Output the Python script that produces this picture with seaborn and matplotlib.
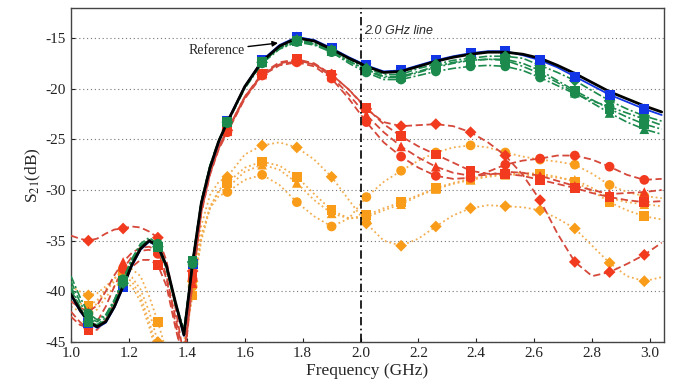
import numpy as np
import pandas as pd
import matplotlib
matplotlib.use("Agg")
import matplotlib.pyplot as plt
import seaborn as sns

# ---------------- data ----------------
freq = [1.00, 1.03, 1.06, 1.09, 1.12, 1.15, 1.18, 1.21, 1.24, 1.27, 1.30, 1.33, 1.36, 1.39,
        1.42, 1.45, 1.48, 1.51, 1.54,
        1.60, 1.66, 1.72, 1.78, 1.84, 1.90, 1.96, 2.02, 2.08, 2.14, 2.20, 2.26, 2.32, 2.38,
        2.44, 2.50, 2.56, 2.62, 2.68, 2.74, 2.80, 2.86, 2.92, 2.98, 3.04]
marker_freq = [1.06, 1.18, 1.30, 1.42, 1.54, 1.66, 1.78, 1.90, 2.02, 2.14, 2.26, 2.38,
               2.50, 2.62, 2.74, 2.86, 2.98]

reference = [-40.3, -41.8, -43.0, -43.5, -43.0, -41.5, -39.5, -37.4, -35.8, -35.0, -35.5, -37.5, -41.0, -44.3,
             -37.2, -31.3, -27.8, -25.2, -23.3,
             -19.8, -17.3, -15.8, -15.0, -15.3, -16.1, -17.0, -17.8, -18.4, -18.3, -17.8, -17.3, -16.9, -16.6,
             -16.4, -16.4, -16.6, -17.0, -17.7, -18.5, -19.4, -20.3, -21.0, -21.7, -22.3]
blue = [-40.4, -41.9, -43.1, -43.6, -43.1, -41.6, -39.6, -37.5, -35.9, -35.1, -35.6, -37.6, -41.1, -44.4,
        -37.3, -31.4, -27.9, -25.3, -23.2,
        -19.8, -17.2, -15.7, -14.9, -15.2, -16.0, -16.9, -17.7, -18.3, -18.2, -17.7, -17.2, -16.8, -16.5,
        -16.3, -16.3, -16.7, -17.2, -17.9, -18.8, -19.7, -20.6, -21.3, -22.0, -22.6]

green_sq = [-39.5, -41.5, -43.0, -43.3, -42.6, -41.0, -39.0, -37.0, -35.6, -35.0, -35.6, -37.8, -41.3, -44.0,
            -37.0, -31.1, -27.6, -25.1, -23.3,
            -19.9, -17.4, -16.0, -15.3, -15.6, -16.3, -17.3, -18.2, -18.9, -18.9, -18.4, -17.9, -17.5, -17.2,
            -17.1, -17.1, -17.5, -18.2, -19.2, -20.2, -21.1, -22.0, -22.8, -23.5, -24.0]
green_ci = [-38.5, -40.5, -42.2, -42.8, -42.3, -40.8, -38.8, -36.8, -35.3, -34.7, -35.3, -37.5, -41.0, -43.8,
            -37.3, -31.2, -27.7, -25.2, -23.4,
            -20.0, -17.5, -16.1, -15.4, -15.7, -16.4, -17.5, -18.4, -19.1, -19.1, -18.7, -18.3, -18.0, -17.8,
            -17.7, -17.8, -18.2, -18.9, -19.7, -20.5, -21.2, -21.8, -22.4, -23.0, -23.6]
green_tr = [-39.0, -41.0, -42.6, -43.0, -42.4, -40.9, -38.9, -36.9, -35.5, -34.9, -35.5, -37.7, -41.2, -43.9,
            -37.1, -31.1, -27.6, -25.1, -23.3,
            -19.9, -17.4, -16.0, -15.3, -15.6, -16.3, -17.3, -18.1, -18.8, -18.8, -18.3, -17.8, -17.4, -17.2,
            -17.1, -17.2, -17.8, -18.5, -19.4, -20.4, -21.4, -22.4, -23.3, -24.0, -24.5]
green_di = [-39.8, -41.6, -43.0, -43.4, -42.8, -41.2, -39.2, -37.2, -35.7, -35.1, -35.6, -37.7, -41.2, -44.1,
            -37.1, -31.2, -27.7, -25.2, -23.3,
            -19.9, -17.4, -15.9, -15.2, -15.5, -16.2, -17.1, -18.0, -18.6, -18.6, -18.0, -17.6, -17.2, -17.0,
            -16.8, -16.8, -17.0, -17.7, -18.4, -19.2, -20.2, -21.2, -22.0, -22.7, -23.2]

red_di = [-34.5, -34.8, -35.0, -34.8, -34.3, -33.9, -33.8, -33.6, -33.7, -34.1, -34.7, -37.0, -41.5, -46.5,
          -38.0, -31.8, -28.2, -25.7, -24.1,
          -20.8, -18.6, -17.6, -17.3, -17.6, -18.6, -20.1, -22.0, -23.3, -23.7, -23.6, -23.5, -23.7, -24.3,
          -25.3, -26.6, -28.5, -31.0, -34.3, -37.1, -38.5, -38.1, -37.3, -36.4, -35.2]
red_sq = [-42.0, -43.0, -43.8, -43.8, -42.8, -41.0, -39.0, -37.6, -36.9, -36.9, -37.4, -39.5, -43.5, -47.0,
          -38.4, -31.9, -28.2, -25.7, -24.1,
          -20.8, -18.5, -17.4, -17.1, -17.5, -18.6, -20.1, -21.9, -23.5, -24.7, -25.7, -26.5, -27.3, -28.1,
          -28.4, -28.4, -28.6, -29.0, -29.4, -29.8, -30.3, -30.7, -31.0, -31.2, -31.1]
red_tr = [-41.0, -41.6, -42.0, -41.4, -40.0, -38.4, -37.1, -36.2, -35.7, -35.6, -36.0, -38.5, -42.5, -46.5,
          -39.2, -32.2, -28.4, -25.9, -24.2,
          -20.9, -18.6, -17.5, -17.2, -17.6, -18.8, -20.6, -22.6, -24.3, -25.7, -26.8, -27.7, -28.3, -28.6,
          -28.5, -28.2, -28.3, -28.6, -29.1, -29.6, -30.0, -30.4, -30.3, -30.2, -30.0]
red_ci = [-42.5, -43.3, -43.6, -43.0, -41.5, -39.5, -37.8, -36.6, -36.0, -35.9, -36.3, -38.8, -43.0, -47.5,
          -38.8, -32.3, -28.5, -26.0, -24.3,
          -21.0, -18.7, -17.7, -17.4, -17.8, -19.0, -21.0, -23.3, -25.3, -26.7, -27.8, -28.6, -28.9, -28.8,
          -28.2, -27.5, -27.1, -26.9, -26.6, -26.6, -27.0, -27.7, -28.5, -29.0, -28.9]

orange_sq = [-41.0, -41.2, -41.4, -40.9, -39.8, -38.7, -38.1, -37.8, -38.5, -40.5, -43.0, -46.0, -47.0, -45.5,
             -40.4, -35.0, -31.8, -30.0, -29.3,
             -27.8, -27.2, -27.6, -28.7, -30.4, -32.0, -32.8, -32.5, -31.8, -31.2, -30.5, -29.8, -29.3, -28.9,
             -28.6, -28.4, -28.3, -28.4, -28.7, -29.2, -30.1, -31.2, -32.0, -32.6, -32.9]
orange_di = [-39.5, -40.0, -40.4, -40.2, -39.5, -38.7, -38.3, -38.6, -39.8, -42.0, -45.0, -47.5, -47.5, -45.0,
             -39.0, -33.5, -30.5, -29.2, -28.7,
             -26.5, -25.6, -25.3, -25.8, -27.0, -28.7, -31.0, -33.3, -35.0, -35.5, -34.8, -33.6, -32.5, -31.8,
             -31.5, -31.6, -31.7, -32.0, -32.8, -33.8, -35.5, -37.2, -38.5, -39.0, -38.6]
orange_ci = [-40.5, -41.5, -42.2, -41.8, -40.6, -39.5, -39.1, -39.5, -41.0, -43.5, -46.5, -48.0, -48.0, -46.0,
             -39.5, -34.5, -31.8, -30.6, -30.2,
             -29.0, -28.5, -29.5, -31.2, -32.6, -33.6, -32.8, -30.7, -29.2, -28.1, -27.1, -26.3, -25.8, -25.6,
             -25.8, -26.3, -26.7, -27.0, -27.2, -27.5, -28.4, -29.5, -30.2, -30.6, -30.8]
orange_tr = [-41.5, -42.0, -42.0, -41.2, -40.0, -39.0, -38.6, -39.0, -40.5, -43.0, -46.0, -47.5, -47.5, -45.5,
             -40.0, -34.8, -31.6, -30.2, -29.8,
             -28.2, -27.5, -28.0, -29.3, -31.0, -32.3, -32.8, -32.7, -32.0, -31.4, -30.6, -29.9, -29.4, -29.0,
             -28.7, -28.5, -28.5, -28.6, -28.8, -29.0, -29.8, -30.8, -31.2, -31.4, -31.6]

x_ticks = [1.0, 1.2, 1.4, 1.6, 1.8, 2.0, 2.2, 2.4, 2.6, 2.8, 3.0]
y_ticks = [-45, -40, -35, -30, -25, -20, -15]

# ---------------- style ----------------
sns.set_theme(style="white")
plt.rcParams["font.family"] = ["Liberation Serif", "DejaVu Serif"]
plt.rcParams["mathtext.fontset"] = "stix"

ORANGE_M, ORANGE_L = "#f89c1a", "#f3ad4e"
RED_M, RED_L = "#f23a1e", "#d5483a"
GREEN = "#1b8a4c"
BLUE = "#1236e6"

fig = plt.figure(figsize=(6.81, 3.84), dpi=100)
ax = fig.add_axes([71 / 681, 1 - 342 / 384, (664 - 71) / 681, (342 - 8) / 384])

x = np.array(freq)
mask = np.isclose(x[:, None], np.array(marker_freq)[None, :]).any(axis=1)


def draw_line(vals, color, ls, lw, z):
    sns.lineplot(x=x, y=np.array(vals), ax=ax, color=color, lw=lw, linestyle=ls,
                 sort=False, estimator=None, zorder=z)


def draw_marks(vals, color, marker, ms, z, sel=None):
    v = np.array(vals)
    m = mask if sel is None else (mask & sel)
    sns.scatterplot(x=x[m], y=v[m], ax=ax, color=color, marker=marker,
                    s=ms ** 2, edgecolor="none", linewidth=0, zorder=z)


dot = (0, (1, 1.6))
dash = (0, (4, 2))
dashdot = (0, (5, 1.5, 1.2, 1.5))

for vals, mk in [(orange_ci, "o"), (orange_tr, "^"), (orange_sq, "s"), (orange_di, "D")]:
    draw_line(vals, ORANGE_L, dot, 1.3, 2)
    draw_marks(vals, ORANGE_M, mk, 7 if mk != "D" else 6, 2.5)
for vals, mk in [(red_ci, "o"), (red_tr, "^"), (red_sq, "s"), (red_di, "D")]:
    draw_line(vals, RED_L, dash, 1.3, 3)
    draw_marks(vals, RED_M, mk, 7 if mk != "D" else 6, 3.5)

# blue series: beneath the green markers at low frequency, on top of them at high frequency
low = x < 2.55
draw_line(blue, BLUE, "-", 1.3, 3.8)
draw_marks(blue, BLUE, "s", 7.2, 3.9, low)
draw_marks(blue, BLUE, "*", 8, 3.9, low)
for vals, mk in [(green_ci, "o"), (green_tr, "^"), (green_di, "D"), (green_sq, "s")]:
    draw_line(vals, GREEN, dashdot, 1.2, 4)
draw_line(reference, "black", "-", 2.0, 4.3)
for vals, mk in [(green_ci, "o"), (green_tr, "^"), (green_di, "D"), (green_sq, "s")]:
    draw_marks(vals, GREEN, mk, 7 if mk != "D" else 6, 4.5)
draw_marks(blue, BLUE, "s", 7.2, 4.8, ~low)
draw_marks(blue, BLUE, "*", 8, 4.8, ~low)

# 2.0 GHz marker line
ax.axvline(2.0, color="black", lw=1.2, linestyle=(0, (5, 2, 1, 2)), zorder=6)
ax.text(2.012, -14.3, "2.0 GHz line", fontsize=9, style="italic",
        family=["Liberation Sans", "DejaVu Sans"], ha="left", va="center")

ax.annotate("Reference", xy=(1.715, -15.5), xytext=(1.60, -16.2),
            fontsize=10, ha="right", va="center",
            arrowprops=dict(arrowstyle="-|>", color="black", lw=1.0,
                            mutation_scale=8, shrinkA=0, shrinkB=0))

ax.set_xlim(1.0, 3.048)
ax.set_ylim(-45, -12.04)
ax.set_xticks(x_ticks)
ax.set_xticklabels([f"{t:.1f}" for t in x_ticks])
ax.set_yticks(y_ticks)
ax.set_yticklabels([str(t) for t in y_ticks])
ax.tick_params(direction="in", length=3, width=0.8, labelsize=11, colors="#222222",
               top=False, right=False, bottom=True, left=True)
ax.yaxis.grid(True, color="#777777", linestyle=(0, (1, 2.5)), lw=0.8)
ax.xaxis.grid(False)
for sp in ax.spines.values():
    sp.set_color("#444444")
    sp.set_linewidth(1.0)

ax.set_xlabel("Frequency (GHz)", fontsize=12.5, labelpad=2)
ax.set_ylabel("S$_{21}$(dB)", fontsize=12.5, labelpad=2)

fig.savefig("out.png", dpi=100)
